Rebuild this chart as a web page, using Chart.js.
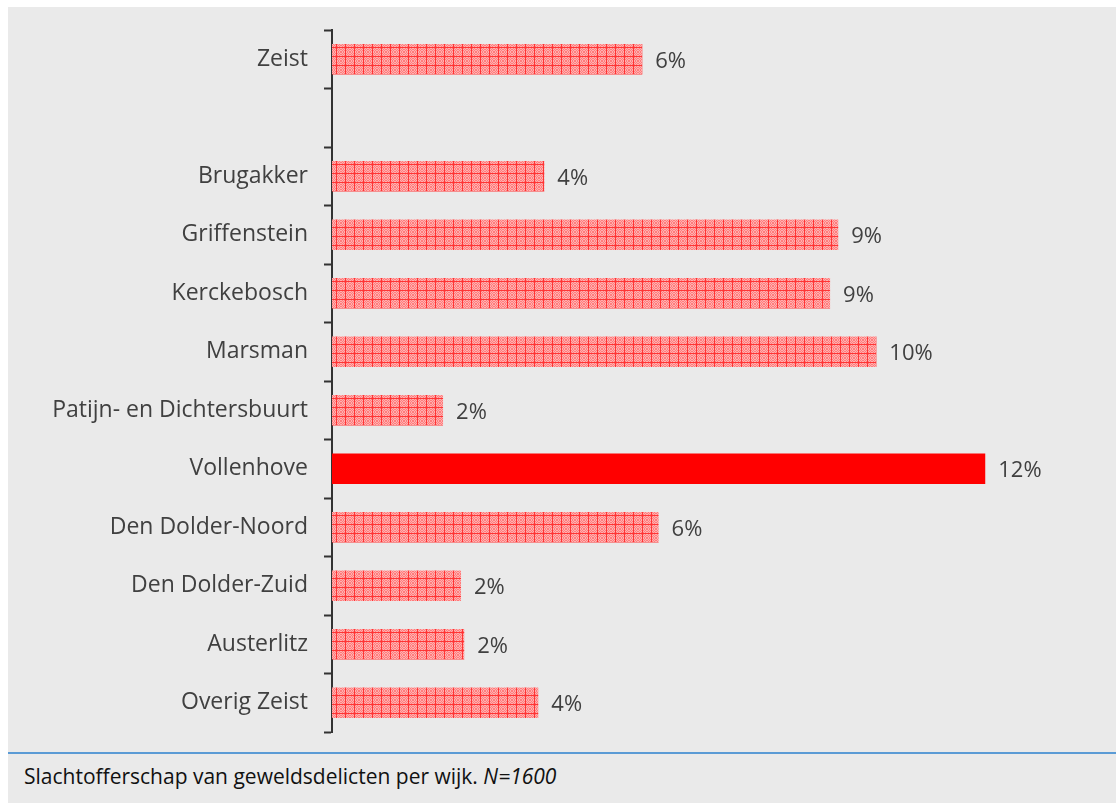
<!DOCTYPE html>
<html>
<head>
<meta charset="utf-8">
<script src="https://cdn.jsdelivr.net/npm/chart.js@4"></script>
<style>
  body { margin: 0; background: #ffffff; }
  #panel { position: absolute; left: 8px; top: 7px; width: 1108px; height: 796px; background: #eaeaea; }
  #chartBox { position: absolute; left: 0; top: 0; width: 1108px; height: 745px; }
  #rule { position: absolute; left: 0; top: 745px; width: 1108px; height: 2px; background: #5b9bd5; }
  #caption { position: absolute; left: 16px; top: 755px; font-family: "Open Sans", sans-serif; font-size: 21px; color: #111111; }
</style>
</head>
<body>
<div id="panel">
  <div id="chartBox"><canvas id="wijkChart"></canvas></div>
  <div id="rule"></div>
  <div id="caption">Slachtofferschap van geweldsdelicten per wijk. <i>N=1600</i></div>
</div>
<script>
const wijken = ['Zeist', '', 'Brugakker', 'Griffenstein', 'Kerckebosch', 'Marsman', 'Patijn- en Dichtersbuurt', 'Vollenhove', 'Den Dolder-Noord', 'Den Dolder-Zuid', 'Austerlitz', 'Overig Zeist'];
const percentages = [5.7, null, 3.9, 9.3, 9.15, 10.0, 2.04, 12.0, 6.0, 2.37, 2.43, 3.79];
const highlight = 'Vollenhove';

// small red crosshatch on pink, like the original fill
function makePattern() {
    const c = document.createElement('canvas');
    c.width = 9; c.height = 9;
    const g = c.getContext('2d');
    for (let y = 0; y < 9; y++) {
        for (let x = 0; x < 9; x++) {
            if (x === 4 || y === 4) g.fillStyle = '#ff3434';
            else if ((x + y) % 2 === 0) g.fillStyle = '#ff7c7c';
            else g.fillStyle = '#ffb0b0';
            g.fillRect(x, y, 1, 1);
        }
    }
    return g.createPattern(c, 'repeat');
}
const hatch = makePattern();

const barLabels = {
    id: 'barLabels',
    afterDatasetsDraw(chart) {
        const ctx = chart.ctx;
        const meta = chart.getDatasetMeta(0);
        ctx.save();
        ctx.font = '22px "Open Sans", sans-serif';
        ctx.fillStyle = '#404040';
        ctx.textBaseline = 'middle';
        meta.data.forEach((bar, i) => {
            const v = percentages[i];
            if (v === null) return;
            ctx.fillText(Math.round(v) + '%', bar.x + 13, bar.y + 2);
        });
        ctx.restore();
    }
};

new Chart(document.getElementById('wijkChart'), {
    type: 'bar',
    data: {
        labels: wijken,
        datasets: [{
            data: percentages,
            backgroundColor: wijken.map(w => w === highlight ? '#ff0000' : hatch),
            borderWidth: 0,
            categoryPercentage: 1,
            barPercentage: 0.52
        }]
    },
    options: {
        indexAxis: 'y',
        responsive: true,
        maintainAspectRatio: false,
        animation: false,
        layout: { padding: { left: 8, right: 11, top: 23, bottom: 20 } },
        plugins: {
            legend: { display: false },
            tooltip: { enabled: false }
        },
        scales: {
            x: {
                display: false,
                min: 0,
                max: 14.2
            },
            y: {
                afterFit: (s) => {
                    s.width = 316;
                    s.paddingTop = 0;
                    s.paddingBottom = 0;
                },
                border: { color: '#333333', width: 2 },
                grid: {
                    offset: true,
                    drawOnChartArea: false,
                    drawTicks: true,
                    tickLength: 8,
                    tickWidth: 2,
                    color: '#333333'
                },
                ticks: {
                    padding: 16,
                    color: '#404040',
                    font: { family: '"Open Sans", sans-serif', size: 23 }
                }
            }
        }
    },
    plugins: [barLabels]
});
</script>
</body>
</html>
